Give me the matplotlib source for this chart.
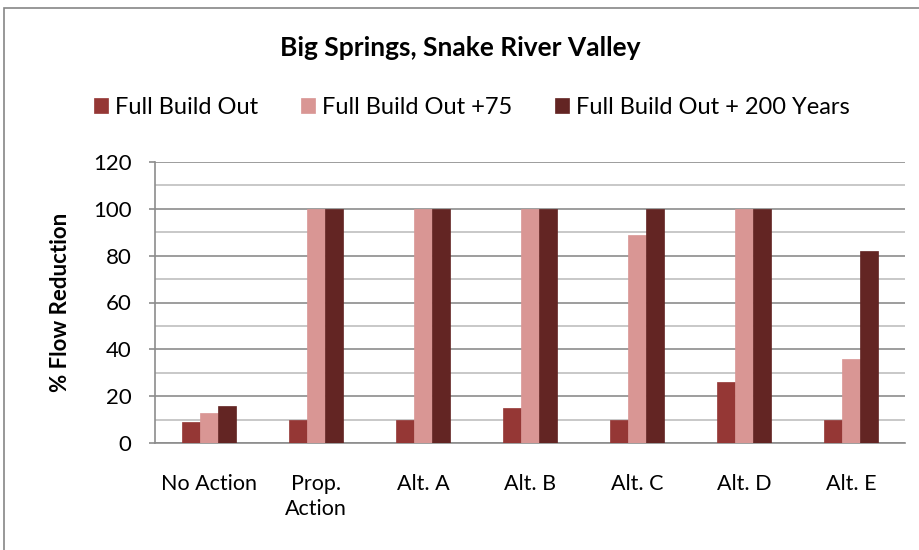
import numpy as np
import matplotlib.pyplot as plt
from matplotlib.patches import Rectangle
from matplotlib.ticker import MultipleLocator

categories = ["No Action", "Prop.\nAction", "Alt. A", "Alt. B", "Alt. C", "Alt. D", "Alt. E"]
full_build = [9, 10, 10, 15, 10, 26, 10]
full_build_75 = [13, 100, 100, 100, 89, 100, 36]
full_build_200 = [16, 100, 100, 100, 100, 100, 82]
series_names = ["Full Build Out", "Full Build Out +75", "Full Build Out + 200 Years"]
colors = ["#953735", "#D99694", "#632523"]

plt.rcParams['font.family'] = ['Lato', 'DejaVu Sans']

fig = plt.figure(figsize=(9.2, 5.5), dpi=100)
ax = fig.add_axes([155 / 920, 107 / 550, 750 / 920, 281 / 550])

# outer chart frame
fig.patches.append(Rectangle((4 / 920, -0.1), 1.2, 1 - 8 / 550 + 0.1,
                             transform=fig.transFigure, fill=False,
                             edgecolor="#868686", linewidth=1.2))

x = np.arange(len(categories))
w = 0.168
for i, (vals, name, c) in enumerate(zip([full_build, full_build_75, full_build_200],
                                         series_names, colors)):
    ax.bar(x + (i - 1) * w, vals, width=w, color=c, label=name, zorder=3,
           edgecolor=c, linewidth=0.5)

ax.set_xlim(-0.5, len(categories) - 0.5)
ax.set_ylim(0, 120)
ax.yaxis.set_major_locator(MultipleLocator(20))
ax.yaxis.set_minor_locator(MultipleLocator(10))
ax.grid(axis="y", which="major", color="#8C8C8C", linewidth=1.2, zorder=0)
ax.grid(axis="y", which="minor", color="#BFBFBF", linewidth=1.2, zorder=0)

for s in ["top", "right"]:
    ax.spines[s].set_visible(False)
for s in ["left", "bottom"]:
    ax.spines[s].set_color("#8C8C8C")
    ax.spines[s].set_linewidth(1.2)

ax.set_xticks(x)
ax.set_xticklabels(categories, fontsize=15.5, linespacing=1.35)
ax.tick_params(axis="x", length=0, pad=22)
ax.tick_params(axis="y", which="major", length=4, width=1.2, color="#8C8C8C",
               labelsize=16, pad=13)
ax.tick_params(axis="y", which="minor", length=0)
for lbl in ax.get_xticklabels():
    lbl.set_verticalalignment("top")

ax.set_ylabel("% Flow Reduction", fontsize=16, fontweight="bold", labelpad=16)

fig.text(0.5, 1 - 48 / 550, "Big Springs, Snake River Valley", ha="center",
         va="center", fontsize=19, fontweight="bold")

handles, labels = ax.get_legend_handles_labels()
fig.legend(handles, labels, loc="center", bbox_to_anchor=(0.513, 1 - 107 / 550),
           ncol=3, frameon=False, fontsize=17, handlelength=0.6,
           handleheight=0.6, handletextpad=0.3, columnspacing=1.8)

fig.savefig("out.png", dpi=100)
